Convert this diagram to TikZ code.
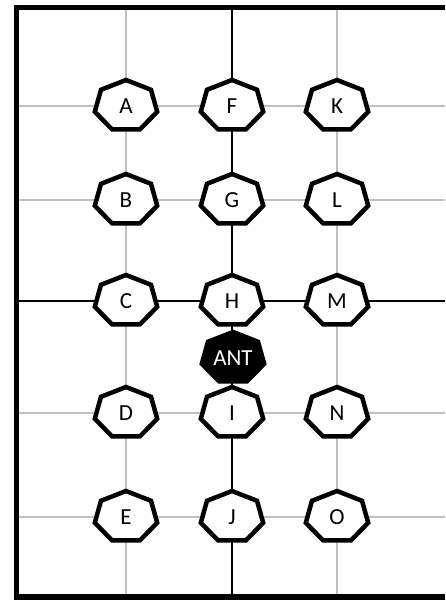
\documentclass[tikz,border=0pt]{standalone}
\usepackage{fontspec}
\setmainfont{Carlito}
\definecolor{GridGray}{RGB}{192,192,192}

\begin{document}
\begin{tikzpicture}[
    x=1pt, y=-1pt,
    line width=2pt,
    font=\fontsize{23}{23}\selectfont,
    hept/.style={line width=4.5pt, fill=white},
    heptdark/.style={line width=4.5pt, fill=black},
]
  \useasboundingbox (0,0) rectangle (445,601);

  % grid
  \foreach \x in {126,337} {
    \draw[GridGray] (\x,8) -- (\x,597);
  }
  \foreach \y in {106,200,413,517} {
    \draw[GridGray] (17,\y) -- (445,\y);
  }
  \draw (232,8) -- (232,597);
  \draw (17,301) -- (445,301);

  % frame
  \draw[line width=5.5pt] (445,7.5) -- (16.3,7.5) -- (16.3,597) -- (445,597);

  % cells
  \foreach \nm/\x/\y in {A/126/106, B/126/200, C/126/301, D/126/413, E/126/517,
                         F/232/106, G/232/200, H/232/301, I/232/413, J/232/517,
                         K/337/106, L/337/200, M/337/301, N/337/413, O/337/517} {
    \begin{scope}[shift={(\x,\y)}, x=32pt, y=26pt]
      \draw[hept] (90:1) \foreach \k in {1,...,6} { -- (90+\k*360/7:1) } -- cycle;
    \end{scope}
    \node (\nm) at (\x,\y) {\nm};
  }

  \begin{scope}[shift={(233,358)}, x=32pt, y=26pt]
    \draw[heptdark] (90:1) \foreach \k in {1,...,6} { -- (90+\k*360/7:1) } -- cycle;
  \end{scope}
  \node[white] (ANT) at (233,358) {ANT};
\end{tikzpicture}
\end{document}
